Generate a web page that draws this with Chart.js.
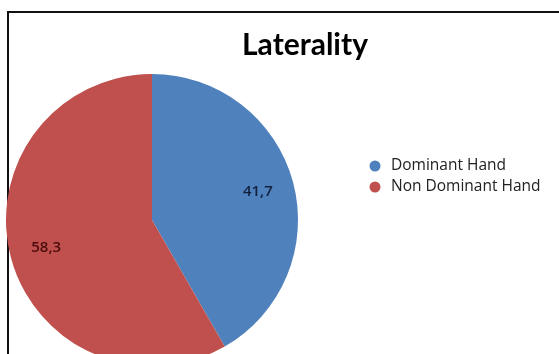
<!DOCTYPE html>
<html>
<head>
<meta charset="utf-8">
<script src="https://cdn.jsdelivr.net/npm/chart.js@4"></script>
<style>
  html, body { margin: 0; padding: 0; overflow: hidden; background: #fff; }
  #wrap { position: relative; width: 559px; height: 354px; overflow: hidden; }
  #frame { position: absolute; left: 7px; top: 11px; right: -5px; bottom: -5px;
           border-left: 2px solid #111; border-top: 2px solid #111; }
  #myChart { position: absolute; left: 0; top: 0; }
</style>
</head>
<body>
<div id="wrap">
  <div id="frame"></div>
  <canvas id="myChart" width="559" height="380"></canvas>
</div>
<script>
// dados do gráfico
var titleText = 'Laterality'
var categories = ['Dominant Hand', 'Non Dominant Hand']
var values = [41.7, 58.3]
var valueLabels = ['41,7', '58,3']
var colors = ['#4F81BD', '#C0504D']
var labelColors = ['#14213d', '#4a0c0c']

// desenha título, rótulos e legenda
var extras = {
    id: 'extras',
    afterDatasetsDraw(chart) {
        var ctx = chart.ctx
        var meta = chart.getDatasetMeta(0)
        ctx.save()
        ctx.textAlign = 'center'
        ctx.textBaseline = 'middle'
        ctx.font = '600 15px "Open Sans"'
        meta.data.forEach((arc, i) => {
            var p = arc.getProps(['x', 'y', 'startAngle', 'endAngle', 'outerRadius'], true)
            var mid = (p.startAngle + p.endAngle) / 2
            var r = p.outerRadius * 0.75
            ctx.fillStyle = labelColors[i]
            ctx.fillText(valueLabels[i], p.x + Math.cos(mid) * r, p.y + Math.sin(mid) * r)
        })

        // título
        ctx.fillStyle = '#000'
        ctx.font = 'bold 30px Lato'
        ctx.textBaseline = 'alphabetic'
        ctx.fillText(titleText, 305, 55)

        // legenda
        ctx.textAlign = 'left'
        ctx.textBaseline = 'middle'
        ctx.font = '15.5px "Open Sans"'
        categories.forEach((c, i) => {
            var y = 166 + i * 21
            ctx.fillStyle = colors[i]
            ctx.beginPath()
            ctx.arc(375, y, 5.5, 0, Math.PI * 2)
            ctx.fill()
            ctx.fillStyle = '#222'
            ctx.fillText(c, 391, y)
        })
        ctx.restore()
    }
}

var ctx = document.getElementById('myChart').getContext('2d')
var myChart = new Chart(ctx, {
    type: 'pie',
    data: {
        labels: categories,
        datasets: [{
            data: values,
            backgroundColor: colors,
            borderWidth: 0
        }]
    },
    options: {
        responsive: false,
        animation: false,
        devicePixelRatio: 1,
        layout: {
            padding: { left: 6, right: 261, top: 74, bottom: 14 }
        },
        plugins: {
            legend: { display: false },
            title: { display: false },
            tooltip: { enabled: false }
        }
    },
    plugins: [extras]
})
</script>
</body>
</html>
